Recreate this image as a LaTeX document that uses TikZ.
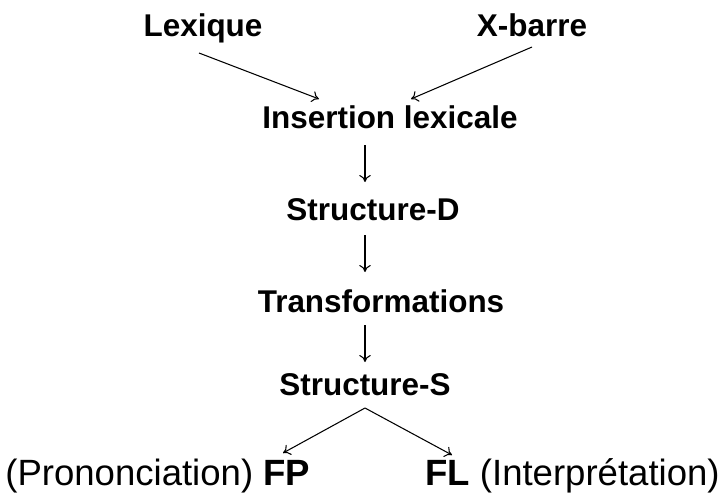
\documentclass[tikz,border=0pt]{standalone}
\usepackage{fontspec}
\setmainfont{Liberation Sans}
\usetikzlibrary{arrows.meta}

\begin{document}
\begin{tikzpicture}[
	lvl/.style={anchor=base, font=\fontsize{17.9}{21}\selectfont\bfseries, inner sep=0pt},
	side/.style={font=\fontsize{20.8}{24}\selectfont, inner sep=0pt},
	link/.style={-{To[length=4pt,width=6.5pt]}, semithick}
	]
	\useasboundingbox (0,0) rectangle (14.5,9.98);
	
	%levels
	\node[lvl] (lex)  at (4.06,9.24)  {Lexique};
	\node[lvl] (xbar) at (10.64,9.24) {X-barre};
	\node[lvl] (ins)  at (7.80,7.42)  {Insertion lexicale};
	\node[lvl] (sd)   at (7.46,5.58)  {Structure-D};
	\node[lvl] (tr)   at (7.62,3.74)  {Transformations};
	\node[lvl] (ss)   at (7.30,2.08)  {Structure-S};
	
	%outputs
	\node[side, anchor=base west] (fp) at (0.10,0.28) {(Prononciation) \textbf{FP}};
	\node[side, anchor=base east] (fl) at (14.40,0.28) {\textbf{FL} (Interprétation)};
	
	%arrow ends
	\coordinate (lexout) at (3.98,8.92);
	\coordinate (xbarout) at (10.64,9.04);
	\coordinate (insin1) at (6.38,8.00);
	\coordinate (insin2) at (8.22,8.00);
	\coordinate (insout) at (7.30,7.08);
	\coordinate (sdin)   at (7.30,6.34);
	\coordinate (sdout)  at (7.30,5.28);
	\coordinate (trin)   at (7.30,4.54);
	\coordinate (trout)  at (7.30,3.48);
	\coordinate (ssin)   at (7.30,2.74);
	\coordinate (ssout)  at (7.30,1.82);
	\coordinate (fpin)   at (5.66,0.92);
	\coordinate (flin)   at (9.04,0.88);
	
	%arrows
	\draw[link] (lexout)  -- (insin1);
	\draw[link] (xbarout) -- (insin2);
	\draw[link] (insout)  -- (sdin);
	\draw[link] (sdout)   -- (trin);
	\draw[link] (trout)   -- (ssin);
	\draw[link] (ssout)   -- (fpin);
	\draw[link] (ssout)   -- (flin);
	
	%\draw[help lines] (0,0) grid (15,10);
\end{tikzpicture}
\end{document}
